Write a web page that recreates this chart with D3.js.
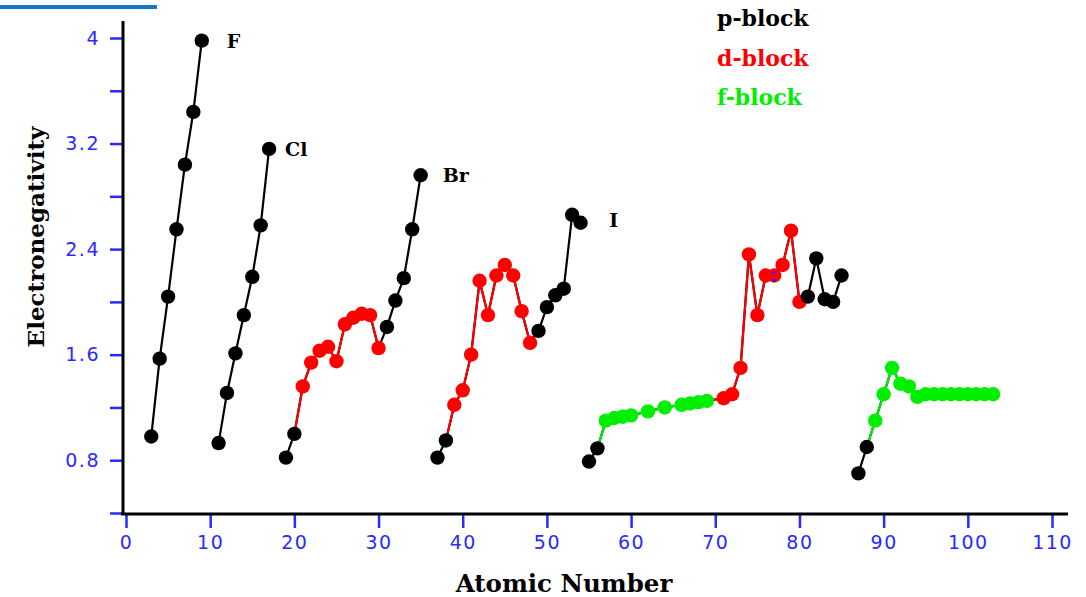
<!DOCTYPE html>
<html>
<head>
<meta charset="utf-8">
<script src="https://cdn.jsdelivr.net/npm/d3@7"></script>
<style>
  body { margin: 0; background: #fff; }
  svg { display: block; }
  .tick text { font-family: "DejaVu Sans", sans-serif; font-size: 19px; fill: #2a2aff; letter-spacing: 1.5px; }
  .tick line { stroke: #2a2aff; stroke-width: 2.5px; }
  .ttl { font-family: "DejaVu Serif", serif; font-weight: bold; }
</style>
</head>
<body>
<svg id="chart"></svg>
<script>
// electronegativity (Pauling) by period
var z2 = [3, 4, 5, 6, 7, 8, 9];
var en2 = [0.98, 1.57, 2.04, 2.55, 3.04, 3.44, 3.98];
var z3 = [11, 12, 13, 14, 15, 16, 17];
var en3 = [0.93, 1.31, 1.61, 1.90, 2.19, 2.58, 3.16];
var z4 = [19, 20, 21, 22, 23, 24, 25, 26, 27, 28, 29, 30, 31, 32, 33, 34, 35];
var en4 = [0.82, 1.00, 1.36, 1.54, 1.63, 1.66, 1.55, 1.83, 1.88, 1.91, 1.90, 1.65, 1.81, 2.01, 2.18, 2.55, 2.96];
var z5 = [37, 38, 39, 40, 41, 42, 43, 44, 45, 46, 47, 48, 49, 50, 51, 52, 53, 54];
var en5 = [0.82, 0.95, 1.22, 1.33, 1.60, 2.16, 1.90, 2.20, 2.28, 2.20, 1.93, 1.69, 1.78, 1.96, 2.05, 2.10, 2.66, 2.60];
var z6 = [55, 56, 57, 58, 59, 60, 62, 64, 66, 67, 68, 69, 71, 72, 73, 74, 75, 76, 77, 78, 79, 80, 81, 82, 83, 84, 85];
var en6 = [0.79, 0.89, 1.10, 1.12, 1.13, 1.14, 1.17, 1.20, 1.22, 1.23, 1.24, 1.25, 1.27, 1.30, 1.50, 2.36, 1.90, 2.20, 2.20, 2.28, 2.54, 2.00, 2.04, 2.33, 2.02, 2.00, 2.20];
var z7 = [87, 88, 89, 90, 91, 92, 93, 94, 95, 96, 97, 98, 99, 100, 101, 102, 103];
var en7 = [0.70, 0.90, 1.10, 1.30, 1.50, 1.38, 1.36, 1.28, 1.30, 1.30, 1.30, 1.30, 1.30, 1.30, 1.30, 1.30, 1.30];

var dBlock = [21, 22, 23, 24, 25, 26, 27, 28, 29, 30, 39, 40, 41, 42, 43, 44, 45, 46, 47, 48,
              71, 72, 73, 74, 75, 76, 77, 78, 79, 80];
var fBlock = [57, 58, 59, 60, 62, 64, 66, 67, 68, 69, 89, 90, 91, 92, 93, 94, 95, 96, 97, 98,
              99, 100, 101, 102, 103];
var blueMarked = [77];

var halogens = ["F", "Cl", "Br", "I"];
var halogenZ = [9, 17, 35, 53];

var legendNames = ["p-block", "d-block", "f-block"];
var xTicks = [0, 10, 20, 30, 40, 50, 60, 70, 80, 90, 100, 110];
var yTicks = [0.4, 0.8, 1.2, 1.6, 2.0, 2.4, 2.8, 3.2, 3.6, 4.0];
var yLabelled = [0.8, 1.6, 2.4, 3.2, 4.0];

var width = 1086, height = 597;
var svg = d3.select("#chart").attr("width", width).attr("height", height);

var x = d3.scaleLinear().domain([0, 110]).range([126, 1052]);
var y = d3.scaleLinear().domain([0.4, 4.0]).range([513, 38]);

var colorOf = function (z) {
    if (dBlock.includes(z)) return "#ff0000";
    if (fBlock.includes(z)) return "#00ee00";
    return "#000000";
};

// little blue bar top left
svg.append("rect").attr("x", 0).attr("y", 5).attr("width", 157).attr("height", 4).attr("fill", "#1479c9");

// axes
var yAxis = d3.axisLeft(y)
    .tickValues(yTicks)
    .tickSize(12)
    .tickPadding(10)
    .tickFormat(function (d) { return yLabelled.some(function (v) { return Math.abs(v - d) < 1e-9; }) ? d3.format("")(+d.toFixed(1)) : ""; });
svg.append("g").attr("transform", "translate(122,0)").call(yAxis).call(function (g) { g.select(".domain").remove(); });

var xAxis = d3.axisBottom(x).tickValues(xTicks).tickSize(14).tickPadding(8);
svg.append("g").attr("transform", "translate(0,514)").call(xAxis).call(function (g) { g.select(".domain").remove(); });

svg.append("line").attr("x1", 123).attr("x2", 123).attr("y1", 21).attr("y2", 515)
    .attr("stroke", "black").attr("stroke-width", 3);
svg.append("line").attr("x1", 121).attr("x2", 1068).attr("y1", 514).attr("y2", 514)
    .attr("stroke", "black").attr("stroke-width", 3);

// series
var periods = [[z2, en2], [z3, en3], [z4, en4], [z5, en5], [z6, en6], [z7, en7]];
var line = d3.line().x(function (d) { return x(d[0]); }).y(function (d) { return y(d[1]); });

var plot = svg.append("g");
periods.forEach(function (p) {
    var pts = p[0].map(function (z, i) { return [z, p[1][i]]; });
    plot.append("path").attr("d", line(pts)).attr("fill", "none")
        .attr("stroke", "black").attr("stroke-width", 2.2);
    for (var i = 1; i < pts.length; i++) {
        var c = colorOf(pts[i][0]);
        if (c === "#000000") continue;
        plot.append("path").attr("d", line([pts[i - 1], pts[i]])).attr("fill", "none")
            .attr("stroke", c).attr("stroke-width", 2.2);
    }
});

periods.forEach(function (p) {
    var pts = p[0].map(function (z, i) { return [z, p[1][i]]; });
    plot.selectAll(null).data(pts).join("circle")
        .attr("cx", function (d) { return x(d[0]); })
        .attr("cy", function (d) { return y(d[1]); })
        .attr("r", 7.2)
        .attr("fill", function (d) { return colorOf(d[0]); });
});

// blue mark on Ir
blueMarked.forEach(function (z) {
    var v = en6[z6.indexOf(z)];
    plot.append("circle").attr("cx", x(z)).attr("cy", y(v) - 3).attr("r", 1.8).attr("fill", "#2020ff");
    plot.append("circle").attr("cx", x(z)).attr("cy", y(v) + 5).attr("r", 1.8).attr("fill", "#2020ff");
});

// halogen labels
var labelDx = [25, 16, 22, 37];
var labelDy = [7, 7, 7, 12];
var allZ = [].concat(z2, z3, z4, z5, z6, z7);
var allEn = [].concat(en2, en3, en4, en5, en6, en7);
halogens.forEach(function (s, i) {
    var v = allEn[allZ.indexOf(halogenZ[i])];
    svg.append("text").attr("class", "ttl")
        .attr("x", x(halogenZ[i]) + labelDx[i]).attr("y", y(v) + labelDy[i])
        .style("font-size", "19px").text(s);
});

// legend
var legendColors = ["#000000", "#ff0000", "#00ee00"];
legendNames.forEach(function (n, i) {
    svg.append("text").attr("class", "ttl")
        .attr("x", 717).attr("y", 26 + i * 39.5)
        .style("font-size", "22px").attr("fill", legendColors[i]).text(n);
});

// axis titles
svg.append("text").attr("class", "ttl")
    .attr("x", 564).attr("y", 592).attr("text-anchor", "middle")
    .style("font-size", "24.5px").text("Atomic Number");
svg.append("text").attr("class", "ttl")
    .attr("transform", "translate(44,237) rotate(-90)").attr("text-anchor", "middle")
    .style("font-size", "23px").text("Electronegativity");
</script>
</body>
</html>
